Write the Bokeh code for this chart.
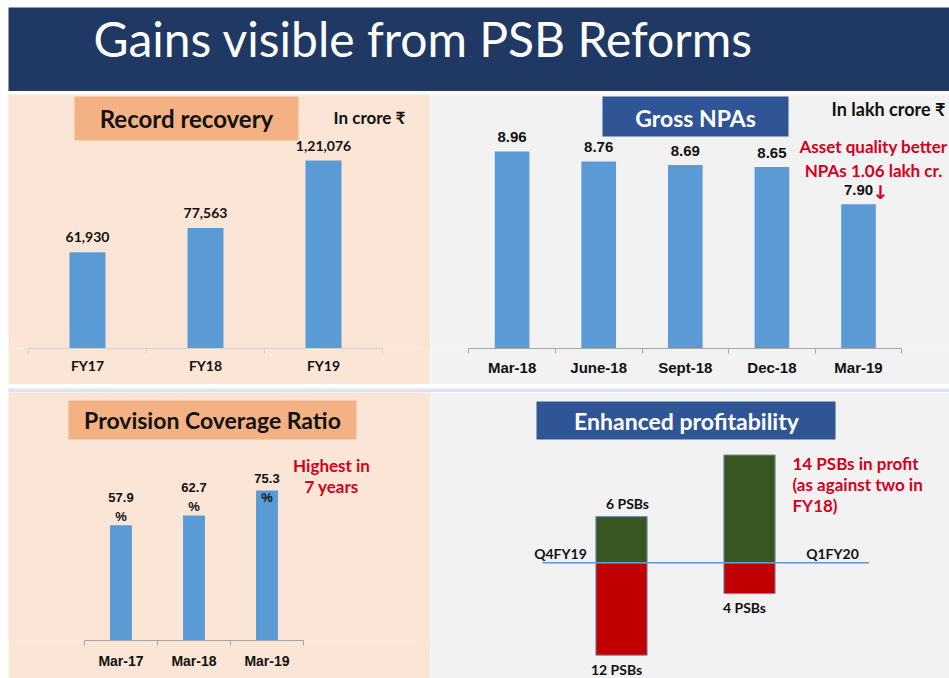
from bokeh.plotting import figure
from bokeh.layouts import column, row
from bokeh.models import Range1d, FixedTicker, Label, BoxAnnotation, ColumnDataSource
from bokeh.embed import file_html
from bokeh.resources import INLINE
from bokeh.core.properties import value
import numpy as np

# ---------------- data ----------------
title_text = "Gains visible from PSB Reforms"

rec_cats = ["FY17", "FY18", "FY19"]
rec_vals = [61930, 77563, 121076]
rec_labels = ["61,930", "77,563", "1,21,076"]

npa_cats = ["Mar-18", "June-18", "Sept-18", "Dec-18", "Mar-19"]
npa_vals = [8.96, 8.76, 8.69, 8.65, 7.90]
npa_labels = ["8.96", "8.76", "8.69", "8.65", "7.90"]
npa_axis_min = 5

pcr_cats = ["Mar-17", "Mar-18", "Mar-19"]
pcr_vals = [57.9, 62.7, 75.3]
pcr_labels = ["57.9", "62.7", "75.3"]

prof_cats = ["Q4FY19", "Q1FY20"]
prof_profit = [6, 14]
prof_loss = [12, 4]
prof_profit_labels = ["6 PSBs", ""]
prof_loss_labels = ["12 PSBs", "4 PSBs"]

# ---------------- styles ----------------
NAVY = "#1f3864"
PEACH = "#fbe5d6"
GREY = "#f2f2f2"
STRIP = "#dae5f2"
ORANGE = "#f4b183"
BLUEBOX = "#2f5597"
BAR = "#5b9bd5"
GREEN = "#385723"
DRED = "#c00000"
RED_TXT = "#d6001c"
TXT = "#111111"
CAL = "Lato"
ARIAL = "Liberation Sans"


def panel(w, h, bg, xr, yr, bottom=0, axis=False):
    p = figure(width=w, height=h, x_range=Range1d(*xr), y_range=Range1d(*yr),
               output_backend="svg", toolbar_location=None,
               min_border=0, min_border_left=0, min_border_right=0,
               min_border_top=0, min_border_bottom=bottom,
               x_axis_location="below" if axis else None, y_axis_location=None,
               background_fill_color=bg, border_fill_color=bg,
               outline_line_color=None)
    p.grid.visible = False
    return p


def cat_axis(p, cats, font, size, line_color, standoff):
    n = len(cats)
    ax = p.xaxis[0]
    ax.ticker = FixedTicker(ticks=list(range(n)),
                            minor_ticks=[i - 0.5 for i in range(n + 1)])
    ax.major_label_overrides = {i: c for i, c in enumerate(cats)}
    ax.bounds = (-0.5, n - 0.5)
    ax.major_tick_out = 0
    ax.major_tick_in = 0
    ax.minor_tick_in = 0
    ax.minor_tick_out = 5
    ax.axis_line_color = line_color
    ax.minor_tick_line_color = line_color
    ax.major_label_text_font = font
    ax.major_label_text_font_size = size
    ax.major_label_text_font_style = "bold"
    ax.major_label_text_color = TXT
    ax.major_label_standoff = standoff


def box(p, fh, x0, x1, y0, y1, color):
    p.add_layout(BoxAnnotation(left=x0, right=x1, top=fh - y0, bottom=fh - y1,
                               left_units="screen", right_units="screen",
                               top_units="screen", bottom_units="screen",
                               fill_color=color, fill_alpha=1.0, line_color=None))


def lab(p, fh, x, y, text, size, color=TXT, font=CAL, style="bold",
        align="center", baseline="middle"):
    p.add_layout(Label(x=x, y=fh - y, x_units="screen", y_units="screen",
                       text=text, text_font=font, text_font_size=size,
                       text_font_style=style, text_color=color,
                       text_align=align, text_baseline=baseline))


# ---------------- header ----------------
hd = panel(941, 84, NAVY, (0, 1), (0, 1))
lab(hd, 84, 85, 31, title_text, "48px", color="white", style="normal",
    align="left")

strip1 = panel(941, 3, "#c9d6ea", (0, 1), (0, 1))
strip2 = panel(941, 8, STRIP, (0, 1), (0, 1))

# ---------------- top-left: Record recovery ----------------
TL_W, TL_H, TL_B = 422, 290, 36
tl_fh = TL_H - TL_B
tl = panel(TL_W, TL_H, PEACH, (-79 / 118, (TL_W - 79) / 118),
           (0, tl_fh / 188 * 121076), bottom=TL_B, axis=True)
src = ColumnDataSource(dict(x=list(range(len(rec_cats))), top=rec_vals, lab=rec_labels))
tl.vbar(x="x", top="top", width=0.305, source=src, fill_color=BAR, line_color=None)
tl.text(x="x", y="top", text="lab", source=src, y_offset=-15,
        text_align="center", text_baseline="middle", text_font=value(CAL),
        text_font_style="bold", text_font_size="14px", text_color=TXT)
cat_axis(tl, rec_cats, CAL, "14px", "#d2d2d2", 3)
box(tl, tl_fh, 66, 290, 2, 46, ORANGE)
lab(tl, tl_fh, 178, 24, "Record recovery", "24px")
lab(tl, tl_fh, 361, 23, "In crore ₹", "17px")

# ---------------- top-right: Gross NPAs ----------------
TR_W, TR_H, TR_B = 519, 290, 36
tr_fh = TR_H - TR_B
tr = panel(TR_W, TR_H, GREY, (-81.6 / 86.6, (TR_W - 81.6) / 86.6),
           (npa_axis_min, npa_axis_min + tr_fh / 49.75), bottom=TR_B, axis=True)
src = ColumnDataSource(dict(x=list(range(len(npa_cats))), top=npa_vals, lab=npa_labels))
tr.vbar(x="x", top="top", bottom=npa_axis_min, width=0.40, source=src,
        fill_color=BAR, line_color=None)
tr.text(x="x", y="top", text="lab", source=src, y_offset=-14,
        text_align="center", text_baseline="middle", text_font=value(ARIAL),
        text_font_style="bold", text_font_size="15px", text_color=TXT)
cat_axis(tr, npa_cats, ARIAL, "15px", "#a6a6a6", 5)
box(tr, tr_fh, 172, 358, 2, 42, BLUEBOX)
lab(tr, tr_fh, 265, 23, "Gross NPAs", "23px", color="white")
lab(tr, tr_fh, 458, 14, "In lakh crore ₹", "18px")
lab(tr, tr_fh, 443, 52, "Asset quality better", "17px", color=RED_TXT)
lab(tr, tr_fh, 443, 76, "NPAs 1.06 lakh cr.", "17px", color=RED_TXT)
lab(tr, tr_fh, 442, 97, "↓", "19px", color=RED_TXT, font="DejaVu Sans", align="left")

# ---------------- bottom-left: Provision Coverage Ratio ----------------
BL_W, BL_H, BL_B = 422, 286, 38
bl_fh = BL_H - BL_B
bl = panel(BL_W, BL_H, PEACH, (-112.5 / 73, (BL_W - 112.5) / 73),
           (0, bl_fh / 1.992), bottom=BL_B, axis=True)
pcr_lab_y = np.minimum(np.array(pcr_vals) + 14, 81.3)
src = ColumnDataSource(dict(x=list(range(len(pcr_cats))), top=pcr_vals,
                            ly=pcr_lab_y, lab=pcr_labels, pct=["%"] * len(pcr_cats)))
bl.vbar(x="x", top="top", width=0.30, source=src, fill_color=BAR, line_color=None)
bl.text(x="x", y="ly", text="lab", source=src,
        text_align="center", text_baseline="middle", text_font=value(ARIAL),
        text_font_style="bold", text_font_size="13px", text_color=TXT)
bl.text(x="x", y="ly", text="pct", source=src, y_offset=19,
        text_align="center", text_baseline="middle", text_font=value(ARIAL),
        text_font_style="bold", text_font_size="13px", text_color=TXT)
cat_axis(bl, pcr_cats, ARIAL, "14px", "#a6a6a6", 7)
box(bl, bl_fh, 60, 348, 8, 47, ORANGE)
lab(bl, bl_fh, 204, 27, "Provision Coverage Ratio", "23px")
lab(bl, bl_fh, 323, 73, "Highest in", "17px", color=RED_TXT)
lab(bl, bl_fh, 323, 94, "7 years", "17px", color=RED_TXT)

# ---------------- bottom-right: Enhanced profitability ----------------
BR_W, BR_H = 519, 286
br_fh = BR_H
PPU = 7.7
br = panel(BR_W, BR_H, GREY, (-191 / 128, (BR_W - 191) / 128),
           (-(BR_H - 170.3) / PPU, 170.3 / PPU))
xs = list(range(len(prof_cats)))
src = ColumnDataSource(dict(x=xs, p=prof_profit, l=[-v for v in prof_loss],
                            plab=prof_profit_labels, llab=prof_loss_labels))
br.vbar(x="x", bottom=0, top="p", width=0.40, source=src, fill_color=GREEN,
        line_color="#6d8fb5", line_width=1)
br.vbar(x="x", bottom="l", top=0, width=0.40, source=src, fill_color=DRED,
        line_color="#6d8fb5", line_width=1)
br.segment(x0=[-0.617], y0=[0], x1=[1.934], y1=[0], line_color=BAR, line_width=1.5)
br.text(x="x", y="p", text="plab", source=src, y_offset=-13, x_offset=6,
        text_align="center", text_baseline="middle", text_font=value(CAL),
        text_font_style="bold", text_font_size="14px", text_color=TXT)
br.text(x="x", y="l", text="llab", source=src, y_offset=14, x_offset=-5,
        text_align="center", text_baseline="middle", text_font=value(CAL),
        text_font_style="bold", text_font_size="14px", text_color=TXT)
box(br, br_fh, 106, 405, 9, 47, BLUEBOX)
lab(br, br_fh, 256, 28, "Enhanced profitability", "23px", color="white")
lab(br, br_fh, 130, 161, prof_cats[0], "14px")
lab(br, br_fh, 402, 161, prof_cats[1], "14px")
lab(br, br_fh, 362, 71, "14 PSBs in profit", "17px", color=RED_TXT, align="left")
lab(br, br_fh, 362, 92, "(as against two in", "17px", color=RED_TXT, align="left")
lab(br, br_fh, 362, 113, "FY18)", "17px", color=RED_TXT, align="left")

layout = column(hd, strip1,
                row(column(tl), column(tr)),
                strip2,
                row(column(bl), column(br)),
                margin=(7, 0, 0, 8))
open("out.html", "w").write(file_html(layout, INLINE))
